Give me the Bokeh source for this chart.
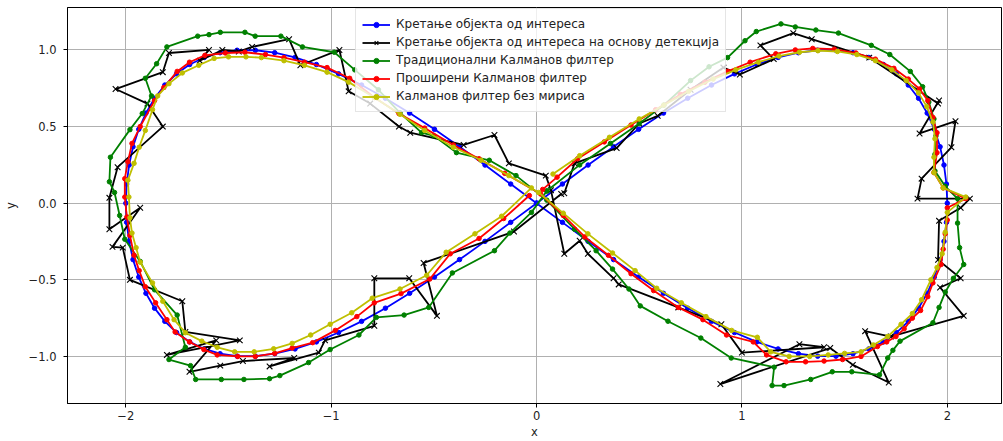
from bokeh.plotting import figure
from bokeh.models import Range1d, FixedTicker, Legend, LegendItem
from bokeh.embed import file_html
from bokeh.resources import INLINE

labels = [
    "Кретање објекта од интереса",
    "Кретање објекта од интереса на основу детекција",
    "Традиционални Калманов филтер",
    "Проширени Калманов филтер",
    "Калманов филтер без мириса",
]

# true trajectory (blue)
true_x = [0.000, 0.126, 0.251, 0.375, 0.497, 0.618, 0.736, 0.852, 0.964, 1.072, 1.176, 1.275, 1.369, 1.458, 1.541,
          1.618, 1.689, 1.753, 1.810, 1.860, 1.902, 1.937, 1.965, 1.984, 1.996, 2.000, 1.996, 1.984, 1.965, 1.937,
          1.902, 1.860, 1.810, 1.753, 1.689, 1.618, 1.541, 1.458, 1.369, 1.275, 1.176, 1.072, 0.964, 0.852, 0.736,
          0.618, 0.497, 0.375, 0.251, 0.126, 0.000, -0.126, -0.251, -0.375, -0.497, -0.618, -0.736, -0.852, -0.964,
          -1.072, -1.176, -1.275, -1.369, -1.458, -1.541, -1.618, -1.689, -1.753, -1.810, -1.860, -1.902, -1.937,
          -1.965, -1.984, -1.996, -2.000, -1.996, -1.984, -1.965, -1.937, -1.902, -1.860, -1.810, -1.753, -1.689,
          -1.618, -1.541, -1.458, -1.369, -1.275, -1.176, -1.072, -0.964, -0.852, -0.736, -0.618, -0.497, -0.375,
          -0.251, -0.126, 0.000]
true_y = [0.000, 0.125, 0.249, 0.368, 0.482, 0.588, 0.685, 0.771, 0.844, 0.905, 0.951, 0.982, 0.998, 0.998, 0.982,
          0.951, 0.905, 0.844, 0.771, 0.685, 0.588, 0.482, 0.368, 0.249, 0.125, 0.000, -0.125, -0.249, -0.368, -0.482,
          -0.588, -0.685, -0.771, -0.844, -0.905, -0.951, -0.982, -0.998, -0.998, -0.982, -0.951, -0.905, -0.844,
          -0.771, -0.685, -0.588, -0.482, -0.368, -0.249, -0.125,
          0.000, 0.125, 0.249, 0.368, 0.482, 0.588, 0.685, 0.771, 0.844, 0.905, 0.951, 0.982, 0.998, 0.998, 0.982,
          0.951, 0.905, 0.844, 0.771, 0.685, 0.588, 0.482, 0.368, 0.249, 0.125, 0.000, -0.125, -0.249, -0.368, -0.482,
          -0.588, -0.685, -0.771, -0.844, -0.905, -0.951, -0.982, -0.998, -0.998, -0.982, -0.951, -0.905, -0.844,
          -0.771, -0.685, -0.588, -0.482, -0.368, -0.249, -0.125, 0.000]

# detections (black x)
det_x = [0.135, 0.185, 0.39, 0.50, 0.59, 0.75, 0.91, 0.99, 1.155, 1.09, 1.25, 1.34, 1.62, 1.955, 1.96, 1.865, 2.04,
         2.02, 1.875, 1.855, 2.11, 2.065, 1.96, 1.955, 2.065, 1.965, 2.08, 1.725, 1.60, 1.715, 1.54, 1.43, 0.895,
         1.28, 1.40, 1.0, 0.90, 0.69, 0.40, 0.375, 0.25, 0.21, 0.135, 0.07, 0.045, -0.135, -0.205, -0.355, -0.615,
         -0.67, -0.81, -0.915, -0.96, -1.15, -1.205, -1.385, -1.45, -1.53, -1.64, -1.595, -1.79, -1.82, -2.05,
         -1.895, -1.82, -2.04, -2.08, -2.08, -1.93, -2.065, -2.015, -1.98, -1.725, -1.71, -1.445, -1.80, -1.56,
         -1.69, -1.54, -1.43, -1.18, -1.30, -1.06, -1.03, -0.79, -0.79, -0.62, -0.485, -0.55, -0.11, 0.12]
det_y = [0.065, 0.26, 0.36, 0.52, 0.57, 0.74, 0.885, 0.84, 0.94, 1.03, 1.11, 1.07, 0.95, 0.65, 0.67, 0.455, 0.535,
         0.365, 0.16, 0.03, 0.03, -0.03, -0.115, -0.37, -0.49, -0.55, -0.735, -0.87, -0.835, -1.17, -1.055, -0.945,
         -1.18, -0.92, -0.94, -0.975, -0.79, -0.68, -0.53, -0.49, -0.33, -0.245, -0.33, 0.085, 0.18, 0.26, 0.445,
         0.38, 0.46, 0.50, 0.65, 0.73, 1.0, 0.90, 1.07, 1.02, 0.99, 1.0, 0.93, 1.0, 0.98, 0.855, 0.745, 0.65, 0.50,
         0.235, 0.035, -0.17, -0.03, -0.285, -0.29, -0.50, -0.64, -0.84, -0.895, -0.99, -0.895, -1.10, -1.06,
         -1.03, -1.01, -1.065, -0.975, -0.895, -0.80, -0.49, -0.49, -0.735, -0.39, -0.185, 0.06]

# traditional Kalman filter (green)
kf_x = [0.05, 0.21, 0.36, 0.50, 0.62, 0.75, 0.84, 0.93, 1.015, 1.07, 1.19, 1.26, 1.36, 1.47, 1.63, 1.72, 1.82, 1.88,
        1.91, 1.935, 1.945, 1.94, 1.94, 1.99, 2.05, 2.05, 2.06, 2.08, 2.03, 1.99, 1.96, 1.93, 1.77, 1.735, 1.71, 1.67,
        1.535, 1.44, 1.335, 1.205, 1.147, 1.157, 0.948, 0.80, 0.64, 0.505, 0.45, 0.37, 0.29, 0.185, 0.05, -0.10,
        -0.23, -0.39, -0.50, -0.56, -0.665, -0.77, -0.885, -0.985, -1.14, -1.245, -1.37, -1.42, -1.54, -1.595,
        -1.65, -1.80, -1.85, -1.905, -1.875, -1.92, -1.98, -2.075, -2.08, -2.055, -2.03, -2.005, -1.93, -1.86,
        -1.75, -1.71, -1.79, -1.685, -1.66, -1.535, -1.425, -1.30, -1.25, -1.11, -1.005, -0.865, -0.78, -0.645,
        -0.525, -0.41, -0.205, -0.13, -0.025, 0.05]
kf_y = [0.08, 0.25, 0.39, 0.52, 0.64, 0.80, 0.89, 0.95, 1.06, 1.12, 1.17, 1.15, 1.13, 1.11, 1.03, 0.97, 0.86, 0.76,
        0.66, 0.55, 0.44, 0.32, 0.21, 0.11, 0.03, -0.13, -0.29, -0.40, -0.49, -0.58, -0.68, -0.78, -0.90, -0.96,
        -1.01, -1.12, -1.10, -1.10, -1.15, -1.19, -1.19, -1.07, -1.01, -0.88, -0.77, -0.67, -0.56, -0.43, -0.31,
        -0.17, 0.02, 0.18, 0.28, 0.33, 0.44, 0.46, 0.59, 0.74, 0.87, 0.985, 1.02, 1.09, 1.09, 1.115, 1.115, 1.10,
        1.09, 1.02, 0.91, 0.815, 0.70, 0.585, 0.48, 0.30, 0.14, 0.07, -0.08, -0.235, -0.38, -0.565, -0.73, -0.94,
        -1.02, -1.06, -1.15, -1.15, -1.15, -1.145, -1.125, -1.04, -0.955, -0.86, -0.745, -0.73, -0.68, -0.455,
        -0.31, -0.195, -0.06, 0.08]

# extended Kalman filter (red)
ekf_x = [0.03, 0.10, 0.20, 0.33, 0.46, 0.58, 0.70, 0.82, 0.93, 1.04, 1.165, 1.26, 1.345, 1.45, 1.555, 1.65, 1.74,
         1.81, 1.865, 1.905, 1.93, 1.95, 1.95, 1.935, 1.98, 2.09, 2.0, 2.0, 1.99, 1.98, 1.97, 1.93, 1.905, 1.87, 1.83,
         1.79, 1.75, 1.705, 1.66, 1.58, 1.49, 1.40, 1.31, 1.215, 1.12, 1.055, 0.925, 0.81, 0.69, 0.57, 0.46, 0.35,
         0.235, 0.13, 0.02, -0.155, -0.28, -0.405, -0.545, -0.67, -0.79, -0.91, -1.02, -1.13, -1.23, -1.32, -1.42,
         -1.515, -1.615, -1.69, -1.75, -1.815, -1.86, -1.93, -1.97, -1.99, -2.005, -2.005, -1.995, -1.98, -1.96,
         -1.935, -1.905, -1.855, -1.80, -1.76, -1.69, -1.62, -1.555, -1.455, -1.37, -1.275, -1.19, -1.09, -0.98,
         -0.875, -0.79, -0.66, -0.52, -0.42, -0.28, -0.16, -0.035]
ekf_y = [0.09, 0.17, 0.29, 0.40, 0.51, 0.61, 0.71, 0.79, 0.86, 0.92, 0.975, 1.0, 1.01, 1.005, 0.98, 0.94, 0.88,
         0.81, 0.745, 0.67, 0.56, 0.46, 0.33, 0.20, 0.10, 0.03, -0.03, -0.11, -0.20, -0.30, -0.40, -0.52, -0.61,
         -0.70, -0.75, -0.82, -0.87, -0.905, -0.935, -1.0, -1.02, -1.03, -1.035, -1.035, -0.99, -0.905, -0.86,
         -0.76, -0.68, -0.57, -0.46, -0.34, -0.22, -0.08, 0.06, 0.195, 0.29, 0.38, 0.49, 0.585, 0.69, 0.815, 0.885,
         0.92, 0.95, 0.97, 0.985, 0.98, 0.965, 0.92, 0.86, 0.755, 0.67, 0.50, 0.39, 0.27, 0.16, 0.04, -0.09, -0.21,
         -0.34, -0.44, -0.545, -0.65, -0.76, -0.84, -0.905, -0.955, -0.99, -1.0, -1.0, -0.98, -0.945, -0.91, -0.83,
         -0.74, -0.65, -0.59, -0.495, -0.33, -0.23, -0.10, 0.05]

# unscented Kalman filter (yellow)
ukf_x = [0.08, 0.21, 0.355, 0.50, 0.62, 0.74, 0.86, 0.97, 1.08, 1.18, 1.28, 1.37, 1.465, 1.56, 1.65, 1.73, 1.80,
         1.86, 1.90, 1.93, 1.94, 1.935, 1.935, 1.98, 2.09, 2.0, 1.99, 1.975, 1.95, 1.92, 1.875, 1.83, 1.775, 1.71,
         1.64, 1.58, 1.50, 1.42, 1.33, 1.23, 1.14, 1.075, 0.95, 0.825, 0.705, 0.585, 0.48, 0.37, 0.25, 0.13, 0.01,
         -0.135, -0.27, -0.405, -0.545, -0.665, -0.79, -0.915, -1.02, -1.13, -1.23, -1.34, -1.415, -1.50, -1.57,
         -1.645, -1.725, -1.79, -1.845, -1.87, -1.905, -1.935, -1.96, -1.99, -1.985, -1.98, -1.97, -1.95, -1.93,
         -1.87, -1.82, -1.765, -1.71, -1.63, -1.555, -1.47, -1.375, -1.28, -1.19, -1.10, -1.005, -0.90, -0.80,
         -0.665, -0.535, -0.44, -0.30, -0.17, -0.025]
ukf_y = [0.19, 0.31, 0.43, 0.55, 0.64, 0.73, 0.81, 0.87, 0.92, 0.96, 0.985, 0.995, 0.99, 0.97, 0.93, 0.87, 0.80,
         0.72, 0.63, 0.53, 0.42, 0.30, 0.20, 0.10, 0.04, -0.06, -0.19, -0.33, -0.42, -0.50, -0.63, -0.72, -0.79,
         -0.87, -0.925, -0.97, -0.98, -0.99, -1.0, -1.0, -0.97, -0.875, -0.83, -0.74, -0.65, -0.555, -0.44, -0.325,
         -0.20, -0.065, 0.07, 0.18, 0.28, 0.365, 0.475, 0.58, 0.69, 0.79, 0.855, 0.90, 0.93, 0.95, 0.955, 0.955,
         0.945, 0.90, 0.85, 0.78, 0.70, 0.61, 0.475, 0.365, 0.26, 0.15, 0.04, -0.095, -0.195, -0.29, -0.385, -0.52,
         -0.64, -0.76, -0.845, -0.90, -0.94, -0.97, -0.97, -0.95, -0.915, -0.86, -0.79, -0.715, -0.62, -0.56,
         -0.47, -0.32, -0.20, -0.085, 0.10]

xticks = [-2, -1, 0, 1, 2]
yticks = [-1.0, -0.5, 0.0, 0.5, 1.0]

FONT = "DejaVu Sans"
FS = "11.5px"

p = figure(width=1003, height=441, output_backend="svg", toolbar_location=None,
           x_range=Range1d(-2.284, 2.264), y_range=Range1d(-1.307, 1.277),
           min_border_left=65, min_border_right=2, min_border_top=7, min_border_bottom=37)
p.background_fill_color = "white"
p.border_fill_color = "white"
p.outline_line_color = "black"
p.outline_line_width = 1

p.xaxis.ticker = FixedTicker(ticks=xticks)
p.yaxis.ticker = FixedTicker(ticks=yticks)
p.xaxis.major_label_overrides = {t: (str(t).replace("-", "\u2212")) for t in xticks}
p.yaxis.major_label_overrides = {t: ("%.1f" % t).replace("-", "\u2212") for t in yticks}
for ax in (p.xaxis[0], p.yaxis[0]):
    ax.minor_tick_line_color = None
    ax.major_tick_in = 0
    ax.major_tick_out = 4
    ax.major_tick_line_color = "black"
    ax.axis_line_color = "black"
    ax.major_label_text_font = FONT
    ax.major_label_text_font_size = FS
    ax.major_label_text_color = "#222222"
    ax.axis_label_text_font = FONT
    ax.axis_label_text_font_size = FS
    ax.axis_label_text_font_style = "normal"
    ax.axis_label_text_color = "#222222"
p.xaxis.axis_label = "x"
p.yaxis.axis_label = "y"
p.xaxis.major_label_standoff = 3
p.xaxis.axis_label_standoff = 2
p.yaxis.major_label_standoff = 7
p.yaxis.axis_label_standoff = 8

p.grid.grid_line_color = "#b0b0b0"
p.grid.grid_line_width = 1
p.xgrid.ticker = FixedTicker(ticks=xticks)
p.ygrid.ticker = FixedTicker(ticks=yticks)

series = [
    (true_x, true_y, "#0000ff", "dot"),
    (det_x, det_y, "#000000", "x"),
    (kf_x, kf_y, "#008000", "dot"),
    (ekf_x, ekf_y, "#ff0000", "dot"),
    (ukf_x, ukf_y, "#bfbf00", "dot"),
]
items = []
for (xs, ys, col, mk), lab in zip(series, labels):
    ln = p.line(xs, ys, line_color=col, line_width=1.8)
    if mk == "x":
        sc = p.scatter(xs, ys, marker="x", size=8, line_color=col, line_width=1.1)
    else:
        sc = p.scatter(xs, ys, marker="circle", size=4.5, line_color=col, fill_color=col)
    items.append(LegendItem(label=lab, renderers=[ln, sc]))

legend = Legend(items=items, location=(288, 291))
legend.label_text_font = FONT
legend.label_text_font_size = "12px"
legend.label_text_color = "#222222"
legend.glyph_width = 28
legend.glyph_height = 13
legend.label_height = 18
legend.spacing = 0
legend.padding = 6
legend.margin = 0
legend.label_standoff = 6
legend.border_line_color = "#cccccc"
legend.border_line_width = 1
legend.background_fill_alpha = 0.8
p.add_layout(legend)

open("out.html", "w").write(file_html(p, INLINE))
